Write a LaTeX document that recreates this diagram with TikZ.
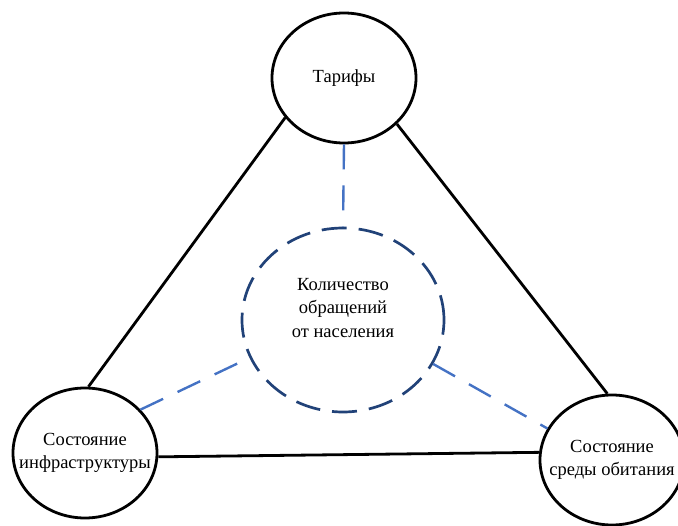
\documentclass[tikz,border=0pt]{standalone}
\usepackage{fontspec}
\setmainfont{Liberation Serif}
\usetikzlibrary{shapes.geometric}
\definecolor{hubblue}{RGB}{33,66,120}
\definecolor{linkblue}{RGB}{68,114,196}
\tikzset{
	topic/.style={draw, ellipse, line width=2.8pt, minimum width=144pt, minimum height=130pt,
		inner xsep=-30pt, inner ysep=0pt, align=center, font=\fontsize{18.5}{23.5}\selectfont},
	hub/.style={draw=hubblue, ellipse, line width=2.7pt, dash pattern=on 25pt off 12pt,
		minimum width=202pt, minimum height=184pt, inner sep=0pt},
	link/.style={draw=linkblue, line width=2.4pt, dash pattern=on 25pt off 16pt}
}
\begin{document}
\begin{tikzpicture}[x=1pt,y=-1pt]
\useasboundingbox (0,0) rectangle (678,526);
\path
	(344,78) node [topic] (tariffs) {Тарифы}
	(85,453) node [topic] (infra) {Состояние\\инфраструктуры}
	(612,460) node [topic] (habitat) {Состояние\\среды обитания}
	(343,320) node [hub] (calls) {}
	(343,308) node [align=center, font=\fontsize{18.5}{23.5}\selectfont] (callstext)
		{Количество\\обращений\\от населения};
% triangle
\draw [line width=2.8pt]
	(tariffs.214) -- (infra.87)
	(tariffs.319) -- (habitat.94)
	(infra.-3) -- (habitat.174);
% links to the centre
\path [link]
	(tariffs.270) -- (calls.90)
	(infra.38) -- (calls.202)
	(calls.334) -- (habitat.154);
\end{tikzpicture}
\end{document}
